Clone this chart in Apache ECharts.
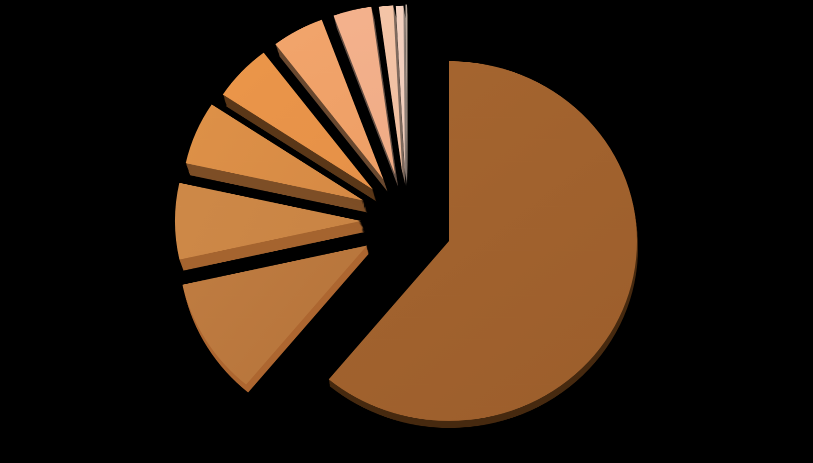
<!DOCTYPE html>
<html><head><meta charset="utf-8">
<style>html,body{margin:0;padding:0;background:#000;overflow:hidden;width:813px;height:463px}
#c{width:813px;height:484px;transform:scaleY(0.957);transform-origin:0 0}</style>
<script src="https://cdn.jsdelivr.net/npm/echarts@6/dist/echarts.min.js"></script>
</head><body><div id="c"></div>
<script>
const categories = ['A','B','C','D','E','F','G','H','I','J'];
const values = [61.05,10.48,6.92,5.86,5.31,4.75,3.5,1.31,0.69,0.14];
// styling and layout of each exploded slice, kept apart from the data
const faceLight = ['#A66630','#C07D42','#CE8948','#DE9148','#EB964A','#F2A56C','#F4B28D','#F4C5A8','#F3D1C0','#B8A89C'];
const faceDark  = ['#9C5E2C','#B5733A','#C98444','#D68A45','#E69148','#EE9F66','#F0AC86','#F1BFA0','#F0CCBA','#A89A90'];
const wallColors = ['#46290F','#AD6630','#A5642F','#7D4E26','#5A3718','#69482F','#645045','#7E6A5E','#8E7F77','#5A5048'];
const apexX = [449,367,361,363.5,373,383.5,395,402.4,405,407];
const apexY = [241,245.5,221,200.5,189.5,179.5,174.5,173.6,174,173];
const radii = [188,189,186,182,180,178,177,176,176,176];
const wallX = [1,2,4,4,3.5,4,3,3,2,1];
const wallY = [7,8,11,12,12,12,12,12,12,12];
const SQUASH = 0.957, LAYERS = 10;
const chart = echarts.init(document.getElementById('c'), null, {devicePixelRatio:2});
function slicePie(k,dx,dy,color,z){
  return {type:'pie',z:z,silent:true,animation:false,
    center:[apexX[k]+dx,(apexY[k]+dy)/SQUASH],radius:[0,radii[k]],startAngle:90,clockwise:true,
    label:{show:false},labelLine:{show:false},
    data:categories.map((n,i)=>({name:n,value:values[i],itemStyle:i===k?{color:color}:{opacity:0}}))};
}
const series=[];
categories.forEach((_,k)=>{
  for(let d=1;d<=LAYERS;d++){ series.push(slicePie(k,wallX[k]*d/LAYERS,wallY[k]*d/LAYERS,wallColors[k],1)); }
  series.push(slicePie(k,0,0,new echarts.graphic.LinearGradient(0,0,1,1,[{offset:0,color:faceLight[k]},{offset:1,color:faceDark[k]}]),2));
});
chart.setOption({backgroundColor:'#000',animation:false,series});
</script></body></html>
